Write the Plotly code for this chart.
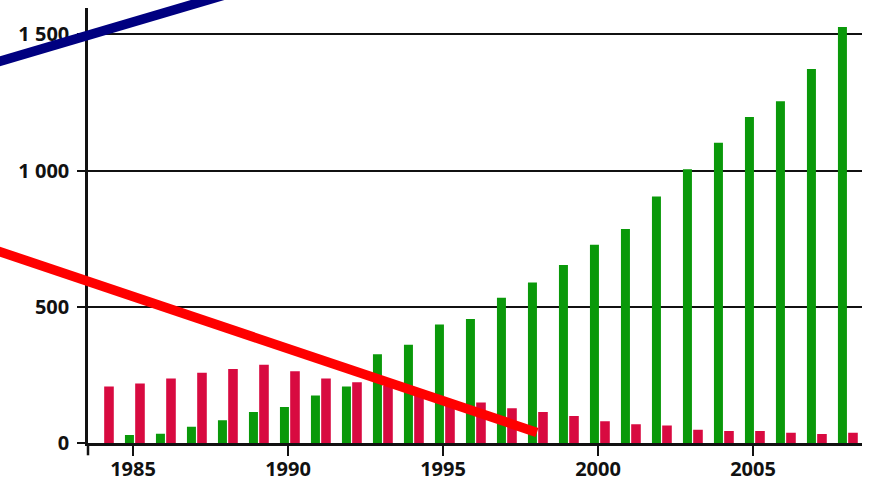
import plotly.graph_objects as go

years = list(range(1984, 2009))
green_vals = [0, 30, 35, 61, 85, 115, 133, 175, 208, 327, 362, 436, 456, 534, 590,
              654, 728, 786, 905, 1005, 1103, 1197, 1255, 1373, 1527]
red_vals = [208, 219, 238, 259, 273, 288, 264, 238, 224, 210, 180, 145, 150, 129, 115,
            100, 81, 70, 65, 50, 45, 45, 39, 34, 39]

y_tickvals = [0, 500, 1000, 1500]
y_ticktext = ["0", "500", "1 000", "1 500"]
x_tickvals = [1985, 1990, 1995, 2000, 2005]
x_ticktext = ["1985", "1990", "1995", "2000", "2005"]

# overlay trend lines (data units: year, value)
red_line_x = [1980.0, 1998.03]
red_line_y = [730, 40]
navy_line_x = [1980.0, 1988.5]
navy_line_y = [1378, 1663]

W, H = 869, 483
# plot area in pixels
px_left, px_right = 88, 862
px_top, px_bottom = 8, 443.3
x_range = [1983.548, 2008.516]
y_range = [0, 1597]

x_dom = [px_left / W, px_right / W]
y_dom = [(H - px_bottom) / H, (H - px_top) / H]

# full-canvas overlay axes sharing the same data scale
xs = (x_range[1] - x_range[0]) / (px_right - px_left)
ys = (y_range[1] - y_range[0]) / (px_bottom - px_top)
x2_range = [x_range[0] - px_left * xs, x_range[1] + (W - px_right) * xs]
y2_range = [y_range[0] - (H - px_bottom) * ys, y_range[1] + px_top * ys]

GREEN = "#0A990A"
RED = "#D80A40"
INK = "#111111"
tfont = dict(family="Open Sans, Arial, sans-serif", size=20, color=INK, weight="bold")

fig = go.Figure()
fig.add_trace(go.Bar(x=years, y=green_vals, marker=dict(color=GREEN, line=dict(width=0)),
                     width=0.29, offset=-0.26, showlegend=False, hoverinfo="skip"))
fig.add_trace(go.Bar(x=years, y=red_vals, marker=dict(color=RED, line=dict(width=0)),
                     width=0.31, offset=0.07, showlegend=False, hoverinfo="skip"))

fig.add_trace(go.Scatter(x=red_line_x, y=red_line_y, mode="lines",
                         line=dict(color="#FF0000", width=9.5),
                         xaxis="x2", yaxis="y2", showlegend=False, hoverinfo="skip"))
fig.add_trace(go.Scatter(x=navy_line_x, y=navy_line_y, mode="lines",
                         line=dict(color="#000080", width=9.5),
                         xaxis="x2", yaxis="y2", showlegend=False, hoverinfo="skip"))

fig.update_layout(
    width=W, height=H,
    margin=dict(l=0, r=0, t=0, b=0, pad=0),
    paper_bgcolor="white",
    plot_bgcolor="rgba(0,0,0,0)",
    barmode="overlay",
    xaxis=dict(domain=x_dom, range=x_range, tickvals=x_tickvals, ticktext=x_ticktext,
               showgrid=False, zeroline=False, showline=True, linecolor=INK,
               linewidth=2.5, ticks="outside", ticklen=10, tickwidth=2,
               tickcolor=INK, tickfont=tfont, anchor="y", automargin=False,
               ticklabelstandoff=-4),
    yaxis=dict(domain=y_dom, range=y_range, tickvals=y_tickvals, ticktext=y_ticktext,
               showgrid=True, gridcolor=INK, gridwidth=2, zeroline=False,
               showline=True, linecolor=INK, linewidth=2.5, ticks="outside",
               ticklen=8, tickwidth=2, tickcolor=INK, tickfont=tfont,
               anchor="x", ticklabelstandoff=4, automargin=False),
    xaxis2=dict(domain=[0, 1], range=x2_range, visible=False, anchor="y2", fixedrange=True),
    yaxis2=dict(domain=[0, 1], range=y2_range, visible=False, anchor="x2", fixedrange=True),
)

# small extension of the vertical axis below the zero line
fig.add_shape(type="line", xref="x domain", yref="y domain", x0=0, x1=0,
              y0=-12 / (px_bottom - px_top), y1=0,
              line=dict(color=INK, width=2.5))

fig.write_html(
    "out.html",
    config={"displayModeBar": False},
    post_script="document.body.style.margin='0';document.body.style.padding='0';"
                "document.body.style.overflow='hidden';",
)
